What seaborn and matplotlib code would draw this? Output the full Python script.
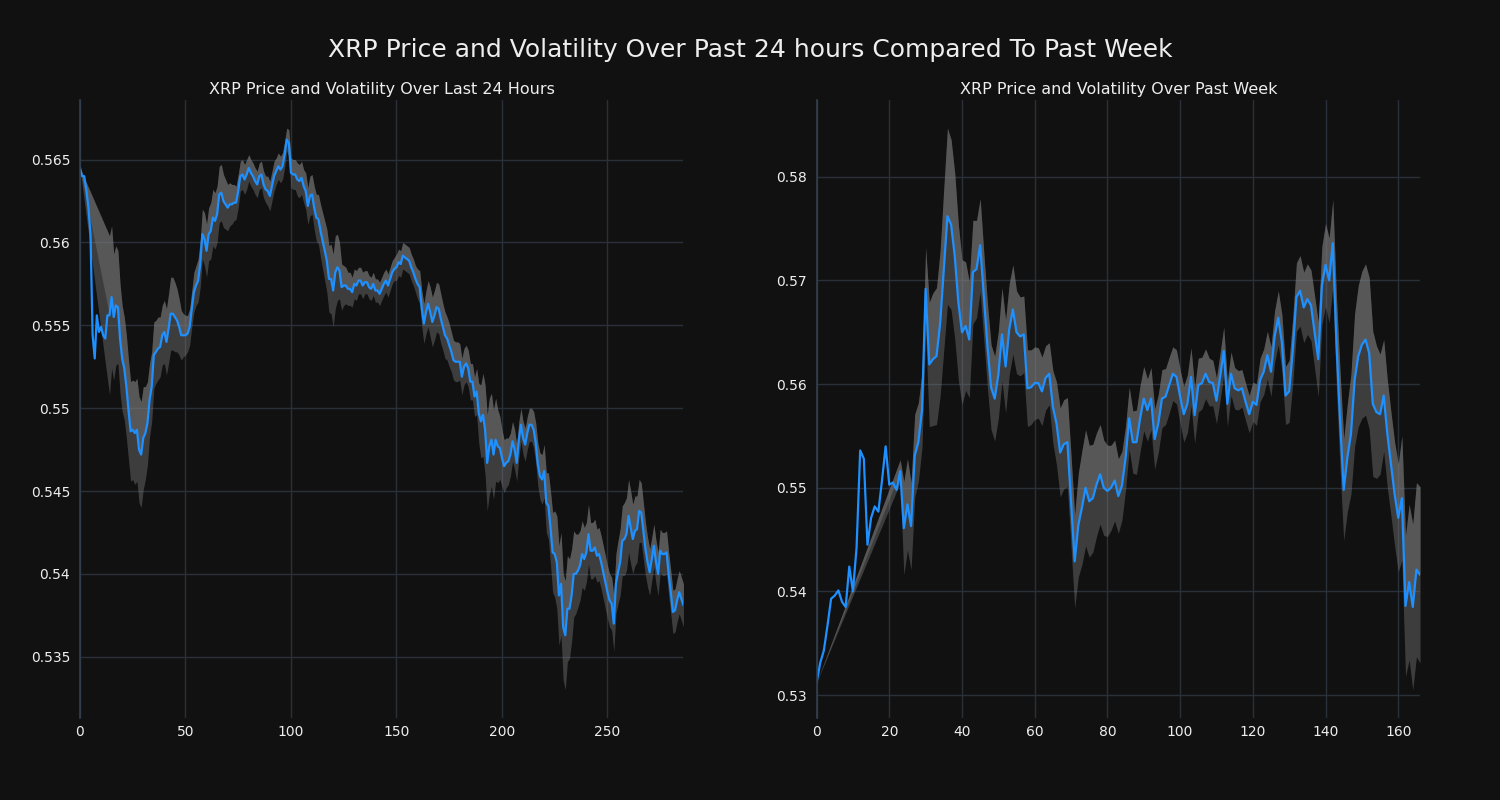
import numpy as np
import pandas as pd
import matplotlib
matplotlib.use("Agg")
import matplotlib.pyplot as plt
import seaborn as sns
from matplotlib.ticker import FuncFormatter, MultipleLocator

# ---------------- data ----------------
SUPTITLE = "XRP Price and Volatility Over Past 24 hours Compared To Past Week"
TITLE_DAY = "XRP Price and Volatility Over Last 24 Hours"
TITLE_WEEK = "XRP Price and Volatility Over Past Week"

nan = float("nan")

day_price = [
    0.5645, 0.5640, 0.5640, 0.5632, 0.5621, 0.5605, 0.5544, 0.5530, 0.5556, 0.5546,
    0.5549, 0.5544, 0.5542, 0.5556, 0.5556, 0.5567, 0.5555, 0.5562, 0.5561, 0.5542,
    0.5530, 0.5524, 0.5513, 0.5499, 0.5486, 0.5487, 0.5485, 0.5487, 0.5475, 0.5472,
    0.5482, 0.5485, 0.5491, 0.5505, 0.5513, 0.5532, 0.5534, 0.5536, 0.5537, 0.5544,
    0.5546, 0.5540, 0.5548, 0.5557, 0.5557, 0.5555, 0.5553, 0.5549, 0.5544, 0.5544,
    0.5544, 0.5545, 0.5549, 0.5560, 0.5570, 0.5574, 0.5577, 0.5587, 0.5605, 0.5602,
    0.5595, 0.5605, 0.5607, 0.5615, 0.5613, 0.5617, 0.5629, 0.5630, 0.5625, 0.5623,
    0.5621, 0.5623, 0.5623, 0.5624, 0.5624, 0.5631, 0.5640, 0.5641, 0.5638, 0.5641,
    0.5645, 0.5642, 0.5640, 0.5637, 0.5635, 0.5640, 0.5641, 0.5635, 0.5632, 0.5631,
    0.5628, 0.5634, 0.5640, 0.5643, 0.5646, 0.5644, 0.5646, 0.5653, 0.5662, 0.5660,
    0.5642, 0.5641, 0.5641, 0.5638, 0.5637, 0.5639, 0.5634, 0.5631, 0.5622, 0.5628,
    0.5629, 0.5621, 0.5615, 0.5614, 0.5607, 0.5601, 0.5595, 0.5589, 0.5578, 0.5578,
    0.5571, 0.5582, 0.5585, 0.5583, 0.5573, 0.5574, 0.5574, 0.5572, 0.5572, 0.5570,
    0.5575, 0.5574, 0.5577, 0.5577, 0.5574, 0.5576, 0.5576, 0.5573, 0.5572, 0.5575,
    0.5571, 0.5571, 0.5569, 0.5572, 0.5575, 0.5577, 0.5574, 0.5578, 0.5582, 0.5584,
    0.5585, 0.5588, 0.5587, 0.5592, 0.5591, 0.5590, 0.5589, 0.5585, 0.5582, 0.5578,
    0.5575, 0.5573, 0.5560, 0.5551, 0.5558, 0.5563, 0.5558, 0.5552, 0.5556, 0.5561,
    0.5560, 0.5554, 0.5549, 0.5544, 0.5542, 0.5538, 0.5534, 0.5529, 0.5528, 0.5528,
    0.5528, 0.5519, 0.5525, 0.5527, 0.5524, 0.5516, 0.5516, 0.5507, 0.5510, 0.5497,
    0.5492, 0.5496, 0.5487, 0.5467, 0.5477, 0.5481, 0.5472, 0.5481, 0.5477, 0.5476,
    0.5470, 0.5465, 0.5467, 0.5468, 0.5472, 0.5480, 0.5475, 0.5467, 0.5481, 0.5490,
    0.5482, 0.5478, 0.5485, 0.5490, 0.5490, 0.5487, 0.5479, 0.5466, 0.5459, 0.5457,
    0.5462, 0.5443, 0.5441, 0.5428, 0.5413, 0.5412, 0.5407, 0.5387, 0.5394, 0.5368,
    0.5363, 0.5379, 0.5379, 0.5387, 0.5400, 0.5400, 0.5402, 0.5405, 0.5412, 0.5409,
    0.5413, 0.5424, 0.5414, 0.5414, 0.5416, 0.5411, 0.5412, 0.5407, 0.5401, 0.5395,
    0.5389, 0.5384, 0.5382, 0.5370, 0.5394, 0.5401, 0.5407, 0.5420, 0.5421, 0.5424,
    0.5435, 0.5428, 0.5421, 0.5426, 0.5427, 0.5438, 0.5437, 0.5426, 0.5415, 0.5407,
    0.5401, 0.5409, 0.5417, 0.5407, 0.5400, 0.5414, 0.5412, 0.5412, 0.5413, 0.5400,
    0.5389, 0.5377, 0.5378, 0.5384, 0.5389, 0.5385, 0.5381,
]

day_vol = [
    0.0,
    nan, nan, nan, nan, nan, nan, nan, nan, nan, nan, nan, nan, nan,
    0.0048, 0.0043, 0.0038, 0.0036, 0.0034, 0.0033, 0.0032,
    0.0031, 0.0031, 0.0030, 0.0030, 0.0030, 0.0031, 0.0031, 0.0032, 0.0032, 0.0031,
    0.0028, 0.0025, 0.0022, 0.0021, 0.0020,
    0.0019, 0.0019, 0.0018, 0.0018, 0.0019, 0.0020, 0.0021, 0.0022, 0.0022, 0.0021,
    0.0019, 0.0017, 0.0015, 0.0013,
    0.0012, 0.0011, 0.0011, 0.0011, 0.0012, 0.0012, 0.0013, 0.0014,
    0.0015, 0.0016, 0.0016, 0.0016, 0.0017, 0.0017, 0.0017, 0.0017,
    0.0017, 0.0017, 0.0016, 0.0015, 0.0014, 0.0013, 0.0012, 0.0011, 0.0010, 0.0010,
    0.0009, 0.0009, 0.0009, 0.0009, 0.0008, 0.0008, 0.0008, 0.0008, 0.0008, 0.0008,
    0.0008, 0.0008, 0.0008, 0.0009, 0.0009, 0.0009, 0.0009, 0.0008, 0.0008, 0.0008,
    0.0008, 0.0008,
    0.0007, 0.0008,
    0.0009, 0.0009, 0.0009, 0.0010, 0.0010, 0.0010, 0.0010, 0.0011, 0.0011, 0.0012, 0.0012,
    0.0013, 0.0014, 0.0015, 0.0016, 0.0017, 0.0018, 0.0019, 0.0020, 0.0021, 0.0022,
    0.0022, 0.0020, 0.0017, 0.0014, 0.0012, 0.0011,
    0.0010, 0.0010, 0.0009, 0.0009, 0.0009, 0.0008, 0.0008, 0.0008, 0.0007, 0.0007,
    0.0007, 0.0007, 0.0007,
    0.0007, 0.0007, 0.0007, 0.0007, 0.0007, 0.0007, 0.0007, 0.0007, 0.0007, 0.0007,
    0.0008, 0.0008, 0.0008, 0.0008, 0.0008, 0.0008, 0.0008, 0.0008, 0.0008, 0.0008,
    0.0009, 0.0010, 0.0011, 0.0012, 0.0013, 0.0014, 0.0015, 0.0015, 0.0015, 0.0015,
    0.0015, 0.0015, 0.0014, 0.0014, 0.0013, 0.0013,
    0.0012, 0.0012, 0.0012, 0.0012, 0.0011, 0.0011, 0.0011, 0.0011, 0.0011, 0.0011,
    0.0011, 0.0012, 0.0014, 0.0018,
    0.0022, 0.0025, 0.0027, 0.0029, 0.0029, 0.0028, 0.0027, 0.0025, 0.0022, 0.0019,
    0.0017, 0.0016, 0.0015, 0.0014, 0.0013, 0.0012, 0.0012, 0.0011, 0.0011, 0.0010,
    0.0010, 0.0010, 0.0010, 0.0010, 0.0010, 0.0011, 0.0012,
    0.0013, 0.0014, 0.0015, 0.0016, 0.0018, 0.0020, 0.0022, 0.0024, 0.0026,
    0.0028, 0.0030, 0.0031, 0.0032, 0.0033, 0.0032, 0.0030,
    0.0028, 0.0026, 0.0024, 0.0022, 0.0021, 0.0020, 0.0019, 0.0018, 0.0018, 0.0017,
    0.0017, 0.0017, 0.0016,
    0.0016, 0.0016, 0.0016, 0.0016, 0.0016, 0.0016, 0.0016, 0.0017,
    0.0018, 0.0019, 0.0020, 0.0021, 0.0022, 0.0022, 0.0022, 0.0022, 0.0021, 0.0021,
    0.0020, 0.0019, 0.0018,
    0.0017, 0.0016, 0.0015, 0.0014, 0.0013, 0.0013, 0.0013, 0.0013, 0.0013, 0.0013,
    0.0013, 0.0013, 0.0013, 0.0013, 0.0013, 0.0013, 0.0013, 0.0013, 0.0013, 0.0013,
]

week_price = [
    0.5312, 0.5331, 0.5343, 0.5367, 0.5393, 0.5396, 0.5401, 0.5390, 0.5385, 0.5424,
    0.5400, 0.5442, 0.5536, 0.5528, 0.5445, 0.5471, 0.5482, 0.5477, 0.5507, 0.5540,
    0.5503, 0.5505, 0.5498, 0.5516, 0.5461, 0.5484, 0.5463, 0.5531, 0.5544, 0.5575,
    0.5692, 0.5619, 0.5624, 0.5627, 0.5659, 0.5711, 0.5762, 0.5754, 0.5724, 0.5679,
    0.5650, 0.5656, 0.5643, 0.5708, 0.5711, 0.5734, 0.5685, 0.5637, 0.5597, 0.5586,
    0.5609, 0.5648, 0.5617, 0.5653, 0.5672, 0.5650, 0.5646, 0.5648, 0.5596, 0.5597,
    0.5601, 0.5601, 0.5593, 0.5606, 0.5610, 0.5578, 0.5562, 0.5534, 0.5542, 0.5544,
    0.5487, 0.5429, 0.5464, 0.5481, 0.5500, 0.5487, 0.5490, 0.5503, 0.5513, 0.5500,
    0.5497, 0.5500, 0.5507, 0.5492, 0.5502, 0.5529, 0.5567, 0.5544, 0.5544, 0.5567,
    0.5586, 0.5575, 0.5586, 0.5547, 0.5562, 0.5586, 0.5588, 0.5599, 0.5610, 0.5607,
    0.5588, 0.5571, 0.5581, 0.5607, 0.5570, 0.5599, 0.5601, 0.5610, 0.5602, 0.5601,
    0.5584, 0.5607, 0.5632, 0.5581, 0.5610, 0.5596, 0.5594, 0.5596, 0.5583, 0.5571,
    0.5583, 0.5580, 0.5604, 0.5612, 0.5628, 0.5612, 0.5646, 0.5664, 0.5640, 0.5589,
    0.5593, 0.5633, 0.5684, 0.5690, 0.5674, 0.5682, 0.5676, 0.5650, 0.5624, 0.5695,
    0.5715, 0.5700, 0.5736, 0.5640, 0.5565, 0.5498, 0.5529, 0.5552, 0.5604, 0.5627,
    0.5638, 0.5643, 0.5630, 0.5581, 0.5573, 0.5571, 0.5589, 0.5552, 0.5523, 0.5494,
    0.5471, 0.5490, 0.5386, 0.5409, 0.5385, 0.5421, 0.5416,
]

week_vol = [
    0.0,
    nan, nan, nan, nan, nan, nan, nan, nan, nan, nan, nan, nan,
    nan, nan, nan, nan, nan, nan, nan, nan, nan, nan,
    0.0011,
    0.0045, 0.0044, 0.0042, 0.0040, 0.0038,
    0.0036, 0.0040, 0.0060, 0.0064, 0.0066, 0.0070, 0.0078,
    0.0085, 0.0082, 0.0080, 0.0075, 0.0070, 0.0062, 0.0056, 0.0050, 0.0047, 0.0045,
    0.0042, 0.0041, 0.0041, 0.0041, 0.0042, 0.0045, 0.0045, 0.0044, 0.0043, 0.0040,
    0.0038, 0.0037,
    0.0037, 0.0036, 0.0035, 0.0034, 0.0033, 0.0031, 0.0030,
    0.0035, 0.0040, 0.0043, 0.0043, 0.0043, 0.0044,
    0.0045, 0.0050, 0.0055, 0.0056, 0.0054, 0.0052, 0.0050, 0.0048, 0.0046, 0.0044,
    0.0041, 0.0039, 0.0036, 0.0033, 0.0031,
    0.0030, 0.0030, 0.0031, 0.0032, 0.0031, 0.0030, 0.0030, 0.0029, 0.0028, 0.0028,
    0.0027, 0.0027, 0.0026, 0.0026, 0.0026, 0.0027, 0.0028, 0.0028, 0.0027, 0.0026,
    0.0025, 0.0024, 0.0023, 0.0022, 0.0022, 0.0023, 0.0023, 0.0022, 0.0021, 0.0020,
    0.0019, 0.0018, 0.0018, 0.0018, 0.0019,
    0.0020, 0.0021, 0.0022, 0.0023, 0.0024, 0.0025, 0.0026, 0.0027, 0.0028, 0.0030,
    0.0032, 0.0033, 0.0034, 0.0034, 0.0034, 0.0034, 0.0035, 0.0036,
    0.0038, 0.0040, 0.0041, 0.0042, 0.0045,
    0.0047, 0.0049, 0.0052, 0.0058, 0.0064,
    0.0068, 0.0071, 0.0073, 0.0073, 0.0070, 0.0064, 0.0058, 0.0054,
    0.0052, 0.0050, 0.0050, 0.0052,
    0.0060, 0.0068, 0.0075, 0.0080, 0.0084, 0.0085,
]

day_xticks = [0, 50, 100, 150, 200, 250]
week_xticks = [0, 20, 40, 60, 80, 100, 120, 140, 160]

# ---------------- style ----------------
BG = "#111111"
GRID = "#2a303a"
TXT = "#eeeeee"
LINE = "#1e90ff"

sns.set_theme(style="darkgrid", rc={
    "figure.facecolor": BG,
    "axes.facecolor": BG,
    "axes.edgecolor": GRID,
    "grid.color": GRID,
    "grid.linewidth": 1.0,
    "text.color": TXT,
    "axes.labelcolor": TXT,
    "xtick.color": TXT,
    "ytick.color": TXT,
})
plt.rcParams["font.family"] = ["DejaVu Sans"]

fig, axes = plt.subplots(1, 2, figsize=(15, 8), dpi=100)
fig.subplots_adjust(left=0.0533, right=0.9467, top=0.875, bottom=0.1025, wspace=0.2206)

fmt = FuncFormatter(lambda v, p: "{:g}".format(round(v, 6)))


def draw(ax, price, vol, title, xticks, ystep):
    df = pd.DataFrame({"t": np.arange(len(price)), "price": price, "vol": vol})
    band = df.dropna()
    lo = band["price"] - band["vol"]
    hi = band["price"] + band["vol"]
    ax.fill_between(band["t"], lo, hi, color="#808080", alpha=0.4, linewidth=0)
    ax.fill_between(band["t"], band["price"], hi, color="#808080", alpha=0.4, linewidth=0)
    sns.lineplot(data=df, x="t", y="price", ax=ax, color=LINE, linewidth=1.6)
    ax.set_xlim(0, len(price) - 1)
    ax.set_xticks(xticks)
    ax.yaxis.set_major_locator(MultipleLocator(ystep))
    ax.yaxis.set_major_formatter(fmt)
    ax.set_xlabel("")
    ax.set_ylabel("")
    ax.set_title(title, fontsize=11.5, color=TXT, pad=4)
    ax.tick_params(axis="both", length=0, labelsize=10, colors=TXT)
    ax.tick_params(axis="y", pad=7)
    ax.tick_params(axis="x", pad=5)
    for s in ["top", "right", "bottom"]:
        ax.spines[s].set_visible(False)
    ax.spines["left"].set_color("#34404f")
    ax.spines["left"].set_linewidth(1.2)
    ax.grid(True, color=GRID, linewidth=1.0)


draw(axes[0], day_price, day_vol, TITLE_DAY, day_xticks, 0.005)
draw(axes[1], week_price, week_vol, TITLE_WEEK, week_xticks, 0.01)

fig.suptitle(SUPTITLE, fontsize=18, color=TXT, y=0.9375, va="center")

fig.savefig("out.png", dpi=100, facecolor=BG)
